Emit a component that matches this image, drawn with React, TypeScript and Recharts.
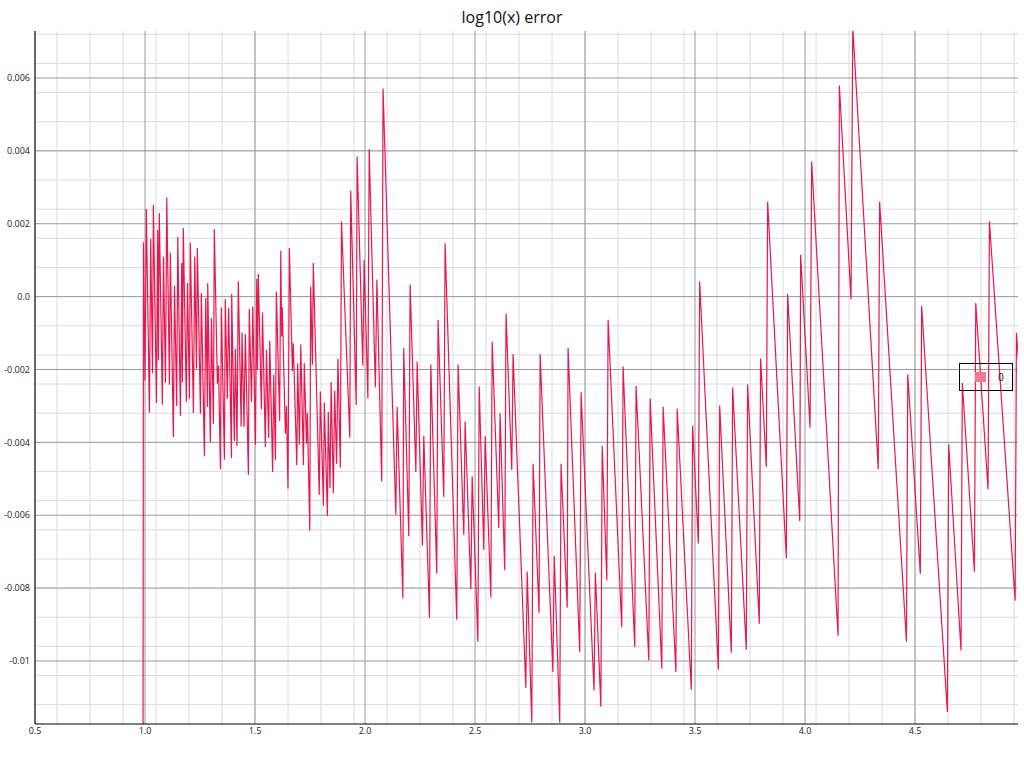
import { LineChart, Line, XAxis, YAxis, CartesianGrid } from 'recharts';

// x positions of the error curve's vertices
const xs: number[] = [
  0.5, 0.99, 0.993, 1.0, 1.006, 1.02, 1.026, 1.034, 1.038, 1.052, 1.058, 1.061, 1.065, 1.079, 1.084, 1.093,
  1.099, 1.111, 1.115, 1.129, 1.134, 1.144, 1.149, 1.161, 1.167, 1.17, 1.174, 1.188, 1.193, 1.202, 1.206,
  1.22, 1.226, 1.234, 1.238, 1.252, 1.256, 1.27, 1.276, 1.284, 1.285, 1.297, 1.302, 1.311, 1.315, 1.329,
  1.334, 1.343, 1.347, 1.361, 1.365, 1.374, 1.38, 1.393, 1.394, 1.406, 1.411, 1.418, 1.424, 1.437, 1.441,
  1.45, 1.456, 1.47, 1.474, 1.484, 1.49, 1.502, 1.508, 1.511, 1.515, 1.529, 1.534, 1.547, 1.552, 1.562,
  1.567, 1.58, 1.585, 1.593, 1.597, 1.612, 1.617, 1.621, 1.624, 1.638, 1.643, 1.65, 1.656, 1.67, 1.674,
  1.69, 1.694, 1.702, 1.708, 1.72, 1.724, 1.734, 1.738, 1.749, 1.753, 1.761, 1.765, 1.792, 1.797, 1.811,
  1.815, 1.829, 1.833, 1.841, 1.846, 1.856, 1.862, 1.871, 1.877, 1.888, 1.893,
  1.931, 1.935, 1.96, 1.964, 1.99, 1.996, 2.013, 2.019, 2.047, 2.054, 2.076, 2.082, 2.14, 2.146, 2.172,
  2.176, 2.199, 2.205, 2.231, 2.237, 2.261, 2.267, 2.293, 2.299, 2.326, 2.332, 2.358, 2.364, 2.417, 2.423,
  2.449, 2.455, 2.481, 2.487, 2.513, 2.519, 2.54, 2.546, 2.572, 2.578, 2.608, 2.614, 2.635, 2.641, 2.667,
  2.673, 2.731, 2.737, 2.758, 2.764, 2.791, 2.796, 2.854, 2.86, 2.885, 2.891, 2.919, 2.923, 2.976, 2.982,
  3.041, 3.047, 3.072, 3.078, 3.099, 3.105, 3.167, 3.173, 3.226, 3.232, 3.29, 3.296, 3.349, 3.355, 3.413,
  3.419, 3.483, 3.489, 3.515, 3.521, 3.606, 3.612, 3.665, 3.671, 3.733, 3.739, 3.792, 3.798, 3.824, 3.83,
  3.915, 3.921, 3.976, 3.98, 4.023, 4.03, 4.15, 4.156, 4.209, 4.217, 4.333, 4.339, 4.461, 4.467, 4.524,
  4.53, 4.647, 4.653, 4.709, 4.715, 4.77, 4.776, 4.832, 4.838, 4.955, 4.961, 4.989,
];

// error values, in thousandths
const errs: number[] = [
  -20, -20, 1.489, -2.301, 2.402, -3.187, 1.58, -2.101, 2.52, -2.922, 1.826, -1.753, 2.292, -2.968, 1.096, -2.365,
  2.721, -2.42, 1.205, -3.854, 0.301, -3.005, 1.644, -3.269, 0.931, -2.347, 1.881, -2.886, 0.374, -2.804, 1.479,
  -3.196, 1.096, -1.982, 1.333, -3.215, 0.1, -4.384, -0.037, -3.032, 0.374, -3.991, -0.594, -3.489, 1.854, -2.393,
  -1.89, -4.74, -0.301, -4.475, -0.064, -2.804, -0.311, -4.429, 0.073, -3.964, -1.434, -4.101, 0.42, -3.562, -0.986,
  -3.58, -1.023, -4.895, -0.338, -2.895, -0.274, -4.064, 0.484, -2.009, 0.621, -3.096, -0.438, -4.128, -1.461, -3.881,
  -1.205, -4.813, -2.146, -4.493, 0.137, -3.416, 1.26, -1.096, -0.292, -3.763, -3.005, -5.269, 1.333, -2.046, -1.279,
  -4.63, -1.826, -4.064, -1.315, -4.63, -1.826, -4.037, -3.187, -6.429, 0.274, -1.872, 0.922, -5.443, -2.603, -5.744,
  -2.904, -6.018, -3.169, -5.251, -2.347, -5.406, -2.575, -4.585, -1.708, -4.694, 2.064,
  -3.873, 2.908, -2.976, 3.851, -1.897, 1.011, -2.794, 4.044, -2.487, 0.466, -5.077, 5.714, -5.986, -3.021, -8.28,
  -1.408, -6.576, 0.33, -4.816, -1.783, -6.837, -3.816, -8.814, -1.863, -7.598, -0.636, -5.497, 1.466, -8.871, -1.863,
  -6.542, -3.43, -8.03, -4.929, -9.472, -2.464, -6.951, -3.828, -8.257, -1.238, -6.349, -3.203, -7.508, -0.465, -4.759,
  -1.579, -10.733, -7.542, -11.688, -4.589, -8.678, -1.579, -10.302, -7.11, -11.688, -4.589, -8.541, -1.408, -9.757, -2.624,
  -10.813, -7.576, -11.256, -4.1, -7.792, -0.636, -9.075, -1.919, -9.62, -2.453, -9.984, -2.794, -10.211, -3.021, -10.302,
  -3.078, -10.79, -3.536, -6.777, 0.414, -10.239, -2.986, -9.774, -2.497, -9.689, -2.411, -8.979, -1.702, -4.674, 2.604,
  -7.181, 0.072, -6.166, 1.148, -3.597, 3.704, -9.31, 5.796, -0.075, 7.4, -4.735, 2.604, -9.468, -2.13, -7.609,
  -0.258, -11.4, -4.05, -9.713, -2.374, -7.548, -0.173, -5.285, 2.065, -8.343, -0.992, -3.23,
];

const xTicks = [0.5, 1.0, 1.5, 2.0, 2.5, 3.0, 3.5, 4.0, 4.5];
const yTicks = [0.006, 0.004, 0.002, 0, -0.002, -0.004, -0.006, -0.008, -0.01];

const X_MIN = 0.5;
const X_MAX = 4.968;
const Y_MIN = -0.01173;
const Y_MAX = 0.00729;

const data = xs.map((x, i) => ({ x, err: errs[i] / 1000 }));

// minor grid positions
const minorX: number[] = [];
for (let v = 0.5; v <= X_MAX; v += 0.05) minorX.push(+v.toFixed(3));
const minorY: number[] = [];
for (let v = -0.0116; v <= Y_MAX; v += 0.0002) minorY.push(+v.toFixed(5));

const FONT = '"Open Sans", "DejaVu Sans", sans-serif';

function fmtY(v: number): string {
  if (v === 0) return '0.0';
  return String(+v.toFixed(3));
}

function fmtX(v: number): string {
  return v.toFixed(1);
}

export default function App() {
  return (
    <div style={{ position: 'absolute', left: 0, top: 0, width: 1024, height: 760, background: '#fff', fontFamily: FONT }}>
      <div style={{ position: 'absolute', top: 6, left: 0, width: 1024, textAlign: 'center', fontSize: 16, color: '#111' }}>
        log10(x) error
      </div>
      <LineChart width={1024} height={760} data={data} margin={{ top: 31, right: 6, bottom: 16, left: 0 }}>
        <CartesianGrid stroke="#dcdcdc" strokeWidth={1} horizontalValues={minorY} verticalValues={minorX} />
        <CartesianGrid stroke="#9a9a9a" strokeWidth={1} horizontalValues={yTicks} verticalValues={xTicks} />
        <XAxis
          dataKey="x"
          type="number"
          domain={[X_MIN, X_MAX]}
          allowDataOverflow
          ticks={xTicks}
          tickFormatter={fmtX}
          height={20}
          tick={{ fontSize: 9, fill: '#222', fontFamily: FONT }}
          tickLine={false}
          axisLine={{ stroke: '#000' }}
          tickSize={2}
        />
        <YAxis
          type="number"
          domain={[Y_MIN, Y_MAX]}
          allowDataOverflow
          ticks={yTicks}
          tickFormatter={fmtY}
          width={35}
          tick={{ fontSize: 9, fill: '#222', fontFamily: FONT }}
          tickLine={false}
          axisLine={{ stroke: '#000' }}
          tickSize={3}
        />
        <Line
          dataKey="err"
          type="linear"
          stroke="#e8174f"
          strokeWidth={1.2}
          dot={false}
          isAnimationActive={false}
        />
      </LineChart>
      <div
        style={{
          position: 'absolute', left: 959, top: 363, width: 54, height: 28,
          border: '1px solid #000', background: 'transparent', boxSizing: 'border-box',
        }}
      >
        <div style={{ position: 'absolute', left: 15, top: 8, width: 11, height: 10, background: '#f07a96' }} />
        <div style={{ position: 'absolute', left: 38, top: 6, fontSize: 10, color: '#111' }}>0</div>
      </div>
    </div>
  );
}
